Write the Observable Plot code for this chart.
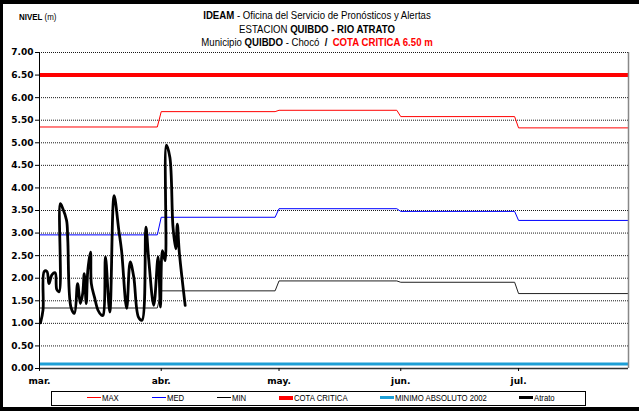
<!DOCTYPE html>
<html>
<head>
<meta charset="utf-8">
<script src="https://cdn.jsdelivr.net/npm/d3@7"></script>
<script src="https://cdn.jsdelivr.net/npm/@observablehq/plot@0.6"></script>
<style>
  html, body { margin: 0; padding: 0; background: #fff; }
  #page { position: relative; width: 639px; height: 411px; overflow: hidden; background: #fff;
          font-family: "Liberation Sans", Arial, sans-serif; color: #000; }
  #border { position: absolute; left: 0; top: 0; width: 650px; height: 411px; box-sizing: border-box;
            border-top: 4px solid #000; border-left: 3px solid #000; border-bottom: 4px solid #000; }
  #ylabel { position: absolute; left: 19px; top: 12px; font-size: 9px; line-height: 10px; color: #000;
            transform: scaleX(0.88); transform-origin: left center; }
  #title { position: absolute; left: 0; top: 9px; width: 634px; text-align: center; font-size: 10.5px; line-height: 13.5px;
           color: #000; transform: scaleX(0.915); transform-origin: 317px 0; }
  #title b { font-weight: bold; color: #000; }
  #title span { color: #000; }
  #title .red { color: #ff0000; font-weight: bold; }
  #chart { position: absolute; left: 0; top: 46px; }
  #legend { position: absolute; left: 51px; top: 391px; width: 535px; height: 15px; box-sizing: border-box;
            border: 1px solid #000; background: #fff; font-size: 9px; color: #000; }
  .item { position: absolute; top: 0; height: 13px; line-height: 13px; white-space: nowrap; }
  .sw { display: inline-block; width: 14px; vertical-align: middle; margin-right: 1px; position: relative; top: -1px; }
  .txt { display: inline-block; transform: scaleX(0.86); transform-origin: left center; }
</style>
</head>
<body>
<div id="page">
  <div id="ylabel"><b>NIVEL</b> (m)</div>
  <div id="title">
    <div><b>IDEAM</b><span> - Oficina del Servicio de Pronósticos y Alertas</span></div>
    <div><span>ESTACION </span><b>QUIBDO - RIO ATRATO</b></div>
    <div><span>Municipio </span><b>QUIBDO</b><span> - Chocó &nbsp;</span><b>/</b>&nbsp; <span class="red">COTA CRITICA 6.50 m</span></div>
  </div>
  <div id="chart"></div>
  <div id="legend"></div>
  <div id="border"></div>
</div>
<script>
// ---- Data ----
const meses = ["mar.", "abr.", "may.", "jun.", "jul."];
const inicioMes = ["2010-03-01", "2010-04-01", "2010-05-01", "2010-06-01", "2010-07-01"];
const finEje = "2010-07-29";

const maxMes = [5.35, 5.69, 5.72, 5.58, 5.33];
const medMes = [2.96, 3.35, 3.54, 3.48, 3.28];
const minMes = [1.34, 1.72, 1.94, 1.91, 1.66];

const cotaCritica = 6.50;
const minimoAbsoluto2002 = 0.10;

// days since 1 March
const atratoDia = [0.25, 0.9, 1.2, 1.9, 2.4, 3.2, 4.0, 4.4, 5.0, 5.3, 5.9, 6.9, 7.2, 8.0, 8.9, 9.7, 10.4, 11.0, 11.4, 11.9,
  12.3, 13.0, 13.2, 14.0, 14.9, 15.8, 16.2, 16.8, 17.9, 19.0, 20.2, 20.9, 22.2, 23.1, 24.0, 25.2, 26.1, 27.1, 27.8, 29.1,
  30.2, 30.8, 31.3, 32.0, 32.3, 33.2, 34.0, 34.7, 35.1, 35.6, 37.1];
const atratoNivel = [1.01, 1.30, 2.15, 2.15, 1.88, 2.08, 2.12, 1.75, 1.70, 3.65, 3.55, 3.28, 2.85, 1.36, 1.22, 1.88, 1.44, 1.66, 2.10, 1.44,
  2.17, 2.58, 1.88, 1.58, 1.29, 1.18, 1.18, 2.47, 1.25, 3.83, 3.06, 2.61, 1.33, 2.36, 2.03, 1.14, 1.07, 3.13, 2.43, 1.40,
  2.47, 1.36, 2.61, 2.39, 4.95, 4.68, 3.13, 2.65, 3.20, 2.58, 1.40];

const yTicks = [0, 0.5, 1, 1.5, 2, 2.5, 3, 3.5, 4, 4.5, 5, 5.5, 6, 6.5, 7];

const serieNombres = ["MAX", "MED", "MIN", "COTA CRITICA", "MINIMO ABSOLUTO 2002", "Atrato"];
const serieColores = ["#ff0000", "#0000ff", "#000000", "#ff0000", "#1e9fd6", "#000000"];
const serieGrosor = [1, 1, 1, 4, 3, 3];

// ---- Build tables ----
const t0 = new Date(inicioMes[0]);
const tEnd = new Date(finEje);
const monthDates = inicioMes.map(d => new Date(d));

function escalones(valores) {
  const pts = [];
  valores.forEach((v, i) => {
    const ini = monthDates[i];
    const fin = i < valores.length - 1 ? d3.utcDay.offset(monthDates[i + 1], -1) : tEnd;
    pts.push({fecha: ini, nivel: v}, {fecha: fin, nivel: v});
  });
  return pts;
}
const maxData = escalones(maxMes);
const medData = escalones(medMes);
const minData = escalones(minMes);
const atrato = atratoDia.map((d, i) => ({fecha: new Date(+t0 + d * 864e5), nivel: atratoNivel[i]}));

const chart = Plot.plot({
  width: 639,
  height: 346,
  marginLeft: 39,
  marginRight: 11,
  marginTop: 6,
  marginBottom: 24,
  style: {background: "transparent", fontFamily: "'DejaVu Sans', Verdana, sans-serif", fontSize: "9px", color: "#000"},
  x: {type: "utc", domain: [t0, tEnd]},
  y: {domain: [0, 7]},
  marks: [
    Plot.gridY(yTicks, {stroke: "#000", strokeOpacity: 0.9, strokeDasharray: "1,1"}),
    Plot.ruleY([minimoAbsoluto2002], {stroke: serieColores[4], strokeWidth: serieGrosor[4]}),
    Plot.ruleY([cotaCritica], {stroke: serieColores[3], strokeWidth: serieGrosor[3]}),
    Plot.line(maxData, {x: "fecha", y: "nivel", stroke: serieColores[0], strokeWidth: serieGrosor[0]}),
    Plot.line(medData, {x: "fecha", y: "nivel", stroke: serieColores[1], strokeWidth: serieGrosor[1]}),
    Plot.line(minData, {x: "fecha", y: "nivel", stroke: "#222", strokeWidth: serieGrosor[2]}),
    Plot.line(atrato, {x: "fecha", y: "nivel", stroke: serieColores[5], strokeWidth: 2.8, curve: "catmull-rom", strokeLinejoin: "round"}),
    Plot.ruleY([0], {stroke: "#333", strokeWidth: 1.5}),
    Plot.ruleX([tEnd], {stroke: "#888", strokeWidth: 1.5}),
    Plot.ruleX([t0], {stroke: "#000", strokeWidth: 1}),
    Plot.axisY({ticks: yTicks, tickFormat: d3.format(".2f"), tickSize: 4, tickPadding: 2, fontWeight: "bold", label: null}),
    Plot.axisX({ticks: monthDates, tickFormat: d => meses[monthDates.findIndex(m => +m === +d)], tickSize: 3, tickPadding: 6, fontWeight: "bold", label: null})
  ]
});
document.getElementById("chart").appendChild(chart);

// ---- Legend ----
const legendX = [35, 100, 165, 227, 328, 467];
const legend = document.getElementById("legend");
serieNombres.forEach((name, i) => {
  const it = document.createElement("div");
  it.className = "item";
  it.style.left = legendX[i] + "px";
  const sw = document.createElement("span");
  sw.className = "sw";
  sw.style.height = serieGrosor[i] + "px";
  sw.style.background = serieColores[i];
  it.appendChild(sw);
  const tx = document.createElement("span");
  tx.className = "txt";
  tx.textContent = name;
  it.appendChild(tx);
  legend.appendChild(it);
});
</script>
</body>
</html>
